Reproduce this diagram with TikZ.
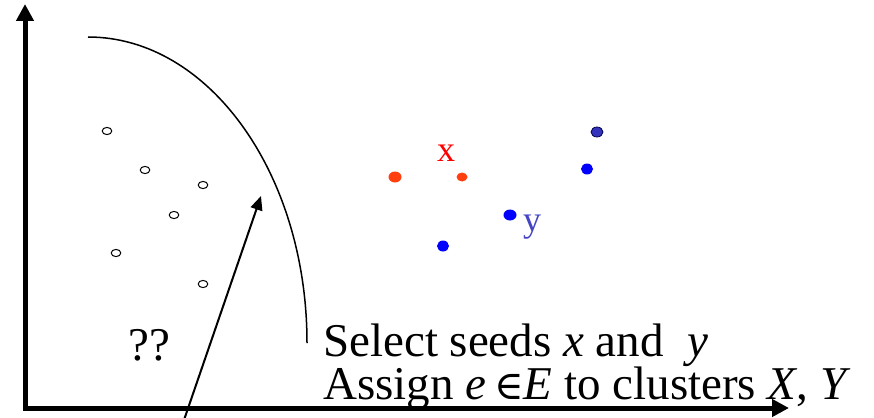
\documentclass[tikz,border=0pt]{standalone}
\usepackage{fontspec}
\setmainfont{Liberation Serif}
\newfontfamily\symfont{DejaVu Serif}
\usetikzlibrary{arrows.meta}
\definecolor{redpt}{HTML}{FF3F10}
\definecolor{xred}{HTML}{FF0000}
\definecolor{bluept}{HTML}{0000FF}
\definecolor{darkbluept}{HTML}{3333BB}
\definecolor{ylab}{HTML}{4444C4}
\tikzset{
  axis/.style={line width=5pt,-{Triangle[length=17pt,width=17pt]}},
  bigtext/.style={font=\fontsize{47}{47}\selectfont,inner sep=0pt},
  lbl/.style={font=\fontsize{36}{36}\selectfont,inner sep=0pt}
}
\begin{document}
\begin{tikzpicture}[x=1pt,y=-1pt]
\useasboundingbox (0,0) rectangle (874,417);
% axes
\coordinate (ytop) at (25,4);
\coordinate (xend) at (789,408);
\draw[axis] (25,410.5) -- (ytop);
\draw[axis] (22.5,408) -- (xend);
% arc
\coordinate (arcstart) at (88,37);
\draw[line width=1.5pt] (arcstart) arc[start angle=-90,end angle=0,x radius=219,y radius=306];
% arrow
\coordinate (tail) at (184,420);
\coordinate (head) at (261,196);
\draw[line width=2pt,-{Triangle[length=14pt,width=12pt]}] (tail) -- (head);
% open points
\foreach \p in {(107,131),(145,170),(203,185),(174,215),(116,253),(203,284)}{
  \draw[line width=1pt,fill=white] \p ellipse[x radius=4.8,y radius=3.6];
}
% red points
\fill[redpt] (395,177) ellipse[x radius=6.5,y radius=5.5];
\fill[redpt] (462,177) ellipse[x radius=5.5,y radius=4.5];
% blue points
\fill[bluept] (510,215) ellipse[x radius=6.5,y radius=5.5];
\fill[bluept] (443,246) ellipse[x radius=6,y radius=5.5];
\fill[bluept] (587,169) ellipse[x radius=6,y radius=5.5];
\filldraw[fill=darkbluept,draw=black!70!blue,line width=0.8pt] (597,132) ellipse[x radius=6,y radius=5];
% labels
\node[lbl,text=xred] (xl) at (446,153) {x};
\node[lbl,text=ylab] (yl) at (532,227) {y};
\node[bigtext,anchor=base] (qq) at (149,360) {??};
\node[bigtext,anchor=base west] (l1) at (323,356) {Select seeds \textit{x} and~ \textit{y}};
\node[bigtext,anchor=base west] (l2) at (323,399) {Assign \textit{e}\,{\symfont\fontsize{40}{40}\selectfont ∈}\textit{E} to clusters \textit{X}, \textit{Y}};
\end{tikzpicture}
\end{document}
